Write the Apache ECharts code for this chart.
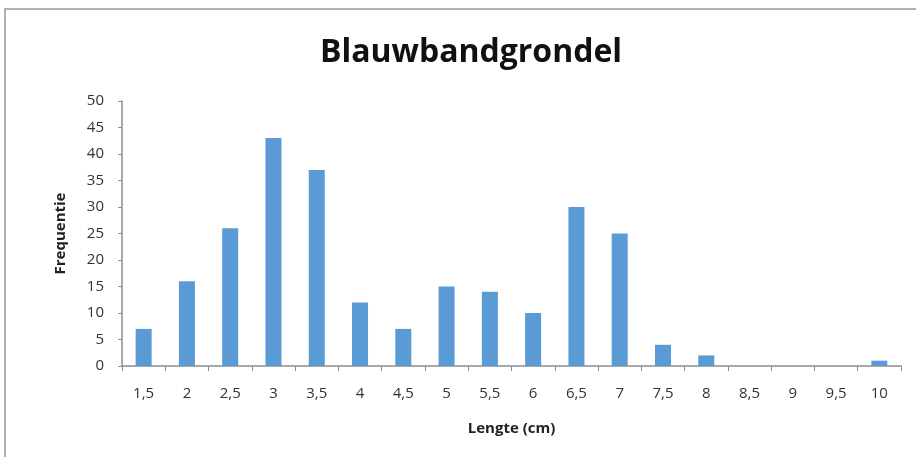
<!DOCTYPE html>
<html>
<head>
<meta charset="utf-8">
<script src="https://cdn.jsdelivr.net/npm/echarts@6/dist/echarts.min.js"></script>
<style>
  html, body { margin: 0; padding: 0; background: #ffffff; }
  #chart { width: 916px; height: 457px; }
</style>
</head>
<body>
<div id="chart"></div>
<script>
// Length classes (cm) and counts
const lengthClasses = ['1,5','2','2,5','3','3,5','4','4,5','5','5,5','6','6,5','7','7,5','8','8,5','9','9,5','10'];
const counts = [7, 16, 26, 43, 37, 12, 7, 15, 14, 10, 30, 25, 4, 2, 0, 0, 0, 1];
const yTicks = { min: 0, max: 50, interval: 5 };

const chart = echarts.init(document.getElementById('chart'), null, { renderer: 'canvas' });
const font = '"Open Sans", "Noto Sans", sans-serif';

chart.setOption({
  backgroundColor: '#ffffff',
  animation: false,
  graphic: [{
    type: 'rect',
    shape: { x: 5, y: 9, width: 1000, height: 1000 },
    style: { fill: 'none', stroke: '#b0b0b0', lineWidth: 2 },
    silent: true
  }],
  title: {
    text: 'Blauwbandgrondel',
    left: 466,
    textAlign: 'center',
    top: 32,
    textStyle: { fontFamily: font, fontWeight: 'bold', fontSize: 32, color: '#111111' }
  },
  grid: { left: 122, right: 15, top: 101, bottom: 91 },
  xAxis: {
    type: 'category',
    data: lengthClasses,
    name: 'Lengte (cm)',
    nameLocation: 'middle',
    nameGap: 55,
    nameTextStyle: { fontFamily: font, fontWeight: 'bold', fontSize: 15, color: '#222222' },
    axisLine: { lineStyle: { color: '#8c8c8c', width: 1.5 } },
    axisTick: { show: true, alignWithLabel: false, length: 5, lineStyle: { color: '#8c8c8c' } },
    axisLabel: { fontFamily: font, fontSize: 15, color: '#333333', margin: 20, interval: 0 }
  },
  yAxis: {
    type: 'value',
    min: yTicks.min,
    max: yTicks.max,
    interval: yTicks.interval,
    name: 'Frequentie',
    nameLocation: 'middle',
    nameGap: 54,
    nameRotate: 90,
    nameTextStyle: { fontFamily: font, fontWeight: 'bold', fontSize: 15, color: '#222222' },
    axisLine: { show: true, lineStyle: { color: '#8c8c8c', width: 1.5 } },
    axisTick: { show: true, length: 4, lineStyle: { color: '#8c8c8c' } },
    splitLine: { show: false },
    axisLabel: { fontFamily: font, fontSize: 15, color: '#333333', margin: 18 }
  },
  series: [{
    type: 'bar',
    data: counts,
    barWidth: '37%',
    itemStyle: { color: '#5b9bd5' }
  }]
});
</script>
</body>
</html>
